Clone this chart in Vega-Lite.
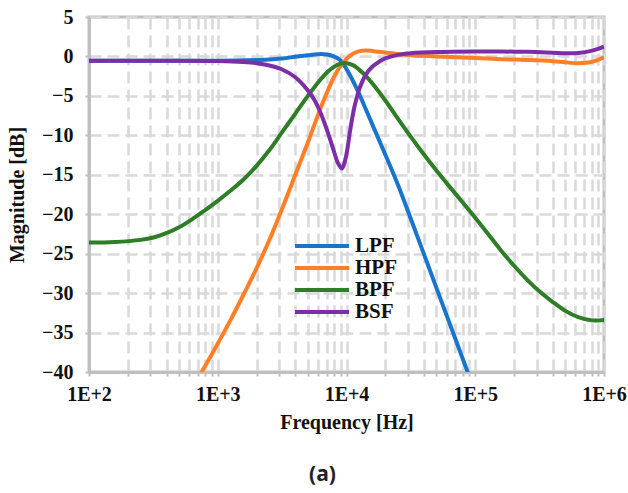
{
  "$schema": "https://vega.github.io/schema/vega-lite/v6.json",
  "width": 515,
  "height": 355,
  "autosize": "none",
  "padding": {"left": 89, "top": 17, "right": 24, "bottom": 121},
  "background": "white",
  "title": {"text": "(a)", "orient": "bottom", "anchor": "middle", "dx": -24, "offset": 32, "font": "Open Sans", "fontSize": 21, "fontWeight": "bold", "color": "#222222"},
  "config": {
    "font": "Liberation Serif",
    "view": {"stroke": "#bfbfbf", "strokeWidth": 3},
    "axis": {
      "labelFont": "Liberation Serif", "titleFont": "Liberation Serif",
      "domainColor": "#bfbfbf", "domainWidth": 3, "tickColor": "#bfbfbf", "tickWidth": 2, "tickSize": 4,
      "gridColor": "#d9d9d9", "gridWidth": 2.5, "gridDash": [12, 6]
    }
  },
  "data": {"values": [
    {"f": 100, "dB": -0.55, "filter": "LPF"},
    {"f": 316.2, "dB": -0.55, "filter": "LPF"},
    {"f": 1000, "dB": -0.53, "filter": "LPF"},
    {"f": 1584.9, "dB": -0.48, "filter": "LPF"},
    {"f": 2511.9, "dB": -0.38, "filter": "LPF"},
    {"f": 3162.3, "dB": -0.25, "filter": "LPF"},
    {"f": 3981.1, "dB": -0.05, "filter": "LPF"},
    {"f": 5011.9, "dB": 0.15, "filter": "LPF"},
    {"f": 5623.4, "dB": 0.25, "filter": "LPF"},
    {"f": 6309.6, "dB": 0.3, "filter": "LPF"},
    {"f": 7079.5, "dB": 0.25, "filter": "LPF"},
    {"f": 7943.3, "dB": 0.0, "filter": "LPF"},
    {"f": 8912.5, "dB": -0.45, "filter": "LPF"},
    {"f": 10000, "dB": -1.6, "filter": "LPF"},
    {"f": 11220, "dB": -3.1, "filter": "LPF"},
    {"f": 12589, "dB": -4.8, "filter": "LPF"},
    {"f": 14125, "dB": -6.7, "filter": "LPF"},
    {"f": 15849, "dB": -8.6, "filter": "LPF"},
    {"f": 17783, "dB": -10.5, "filter": "LPF"},
    {"f": 19953, "dB": -12.4, "filter": "LPF"},
    {"f": 25119, "dB": -16.3, "filter": "LPF"},
    {"f": 31623, "dB": -20.6, "filter": "LPF"},
    {"f": 39811, "dB": -25.0, "filter": "LPF"},
    {"f": 50119, "dB": -29.4, "filter": "LPF"},
    {"f": 63096, "dB": -33.8, "filter": "LPF"},
    {"f": 79433, "dB": -38.2, "filter": "LPF"},
    {"f": 100000, "dB": -42.6, "filter": "LPF"},

    {"f": 707.9, "dB": -40.7, "filter": "HPF"},
    {"f": 749.9, "dB": -40.0, "filter": "HPF"},
    {"f": 794.3, "dB": -39.3, "filter": "HPF"},
    {"f": 1000, "dB": -36.4, "filter": "HPF"},
    {"f": 1258.9, "dB": -33.4, "filter": "HPF"},
    {"f": 1584.9, "dB": -30.2, "filter": "HPF"},
    {"f": 1995.3, "dB": -26.9, "filter": "HPF"},
    {"f": 2511.9, "dB": -23.3, "filter": "HPF"},
    {"f": 3162.3, "dB": -19.3, "filter": "HPF"},
    {"f": 3981.1, "dB": -15.1, "filter": "HPF"},
    {"f": 5011.9, "dB": -10.9, "filter": "HPF"},
    {"f": 6309.6, "dB": -6.5, "filter": "HPF"},
    {"f": 7079.5, "dB": -4.5, "filter": "HPF"},
    {"f": 7943.3, "dB": -2.7, "filter": "HPF"},
    {"f": 8912.5, "dB": -1.3, "filter": "HPF"},
    {"f": 10000, "dB": -0.3, "filter": "HPF"},
    {"f": 11220, "dB": 0.35, "filter": "HPF"},
    {"f": 12589, "dB": 0.68, "filter": "HPF"},
    {"f": 14125, "dB": 0.75, "filter": "HPF"},
    {"f": 15849, "dB": 0.7, "filter": "HPF"},
    {"f": 19953, "dB": 0.5, "filter": "HPF"},
    {"f": 25119, "dB": 0.3, "filter": "HPF"},
    {"f": 31623, "dB": 0.15, "filter": "HPF"},
    {"f": 50119, "dB": 0.0, "filter": "HPF"},
    {"f": 100000, "dB": -0.2, "filter": "HPF"},
    {"f": 158489, "dB": -0.35, "filter": "HPF"},
    {"f": 251189, "dB": -0.45, "filter": "HPF"},
    {"f": 398107, "dB": -0.6, "filter": "HPF"},
    {"f": 501187, "dB": -0.75, "filter": "HPF"},
    {"f": 630957, "dB": -0.85, "filter": "HPF"},
    {"f": 794328, "dB": -0.7, "filter": "HPF"},
    {"f": 1000000, "dB": -0.1, "filter": "HPF"},

    {"f": 100, "dB": -23.6, "filter": "BPF"},
    {"f": 158.5, "dB": -23.52, "filter": "BPF"},
    {"f": 251.2, "dB": -23.25, "filter": "BPF"},
    {"f": 316.2, "dB": -22.95, "filter": "BPF"},
    {"f": 398.1, "dB": -22.4, "filter": "BPF"},
    {"f": 501.2, "dB": -21.65, "filter": "BPF"},
    {"f": 631, "dB": -20.65, "filter": "BPF"},
    {"f": 794.3, "dB": -19.5, "filter": "BPF"},
    {"f": 1000, "dB": -18.3, "filter": "BPF"},
    {"f": 1258.9, "dB": -17.0, "filter": "BPF"},
    {"f": 1584.9, "dB": -15.6, "filter": "BPF"},
    {"f": 1995.3, "dB": -13.9, "filter": "BPF"},
    {"f": 2511.9, "dB": -11.9, "filter": "BPF"},
    {"f": 3162.3, "dB": -9.6, "filter": "BPF"},
    {"f": 3981.1, "dB": -7.3, "filter": "BPF"},
    {"f": 5011.9, "dB": -5.0, "filter": "BPF"},
    {"f": 6309.6, "dB": -2.9, "filter": "BPF"},
    {"f": 7079.5, "dB": -2.0, "filter": "BPF"},
    {"f": 7943.3, "dB": -1.35, "filter": "BPF"},
    {"f": 8912.5, "dB": -0.95, "filter": "BPF"},
    {"f": 10000, "dB": -0.85, "filter": "BPF"},
    {"f": 11220, "dB": -1.1, "filter": "BPF"},
    {"f": 12589, "dB": -1.7, "filter": "BPF"},
    {"f": 14125, "dB": -2.45, "filter": "BPF"},
    {"f": 15849, "dB": -3.4, "filter": "BPF"},
    {"f": 19953, "dB": -5.55, "filter": "BPF"},
    {"f": 25119, "dB": -7.9, "filter": "BPF"},
    {"f": 31623, "dB": -10.2, "filter": "BPF"},
    {"f": 39811, "dB": -12.4, "filter": "BPF"},
    {"f": 50119, "dB": -14.5, "filter": "BPF"},
    {"f": 63096, "dB": -16.5, "filter": "BPF"},
    {"f": 79433, "dB": -18.45, "filter": "BPF"},
    {"f": 100000, "dB": -20.45, "filter": "BPF"},
    {"f": 125893, "dB": -22.5, "filter": "BPF"},
    {"f": 158489, "dB": -24.6, "filter": "BPF"},
    {"f": 199526, "dB": -26.5, "filter": "BPF"},
    {"f": 251189, "dB": -28.25, "filter": "BPF"},
    {"f": 316228, "dB": -29.8, "filter": "BPF"},
    {"f": 398107, "dB": -31.1, "filter": "BPF"},
    {"f": 501187, "dB": -32.25, "filter": "BPF"},
    {"f": 630957, "dB": -33.05, "filter": "BPF"},
    {"f": 794328, "dB": -33.45, "filter": "BPF"},
    {"f": 1000000, "dB": -33.4, "filter": "BPF"},

    {"f": 100, "dB": -0.55, "filter": "BSF"},
    {"f": 316.2, "dB": -0.55, "filter": "BSF"},
    {"f": 1000, "dB": -0.58, "filter": "BSF"},
    {"f": 1584.9, "dB": -0.7, "filter": "BSF"},
    {"f": 1995.3, "dB": -0.85, "filter": "BSF"},
    {"f": 2511.9, "dB": -1.15, "filter": "BSF"},
    {"f": 3162.3, "dB": -1.65, "filter": "BSF"},
    {"f": 3981.1, "dB": -2.6, "filter": "BSF"},
    {"f": 5011.9, "dB": -4.3, "filter": "BSF"},
    {"f": 5623.4, "dB": -5.5, "filter": "BSF"},
    {"f": 6309.6, "dB": -7.2, "filter": "BSF"},
    {"f": 7079.5, "dB": -9.4, "filter": "BSF"},
    {"f": 7943.3, "dB": -11.9, "filter": "BSF"},
    {"f": 8511.4, "dB": -13.4, "filter": "BSF"},
    {"f": 9183.4, "dB": -14.2, "filter": "BSF"},
    {"f": 9549.9, "dB": -13.7, "filter": "BSF"},
    {"f": 10000, "dB": -12.4, "filter": "BSF"},
    {"f": 10715, "dB": -9.2, "filter": "BSF"},
    {"f": 11482, "dB": -6.5, "filter": "BSF"},
    {"f": 12023, "dB": -5.2, "filter": "BSF"},
    {"f": 12589, "dB": -4.1, "filter": "BSF"},
    {"f": 14125, "dB": -2.3, "filter": "BSF"},
    {"f": 15849, "dB": -1.3, "filter": "BSF"},
    {"f": 17783, "dB": -0.7, "filter": "BSF"},
    {"f": 19953, "dB": -0.25, "filter": "BSF"},
    {"f": 25119, "dB": 0.2, "filter": "BSF"},
    {"f": 31623, "dB": 0.4, "filter": "BSF"},
    {"f": 50119, "dB": 0.55, "filter": "BSF"},
    {"f": 100000, "dB": 0.62, "filter": "BSF"},
    {"f": 158489, "dB": 0.62, "filter": "BSF"},
    {"f": 251189, "dB": 0.58, "filter": "BSF"},
    {"f": 398107, "dB": 0.48, "filter": "BSF"},
    {"f": 501187, "dB": 0.42, "filter": "BSF"},
    {"f": 630957, "dB": 0.45, "filter": "BSF"},
    {"f": 794328, "dB": 0.7, "filter": "BSF"},
    {"f": 1000000, "dB": 1.25, "filter": "BSF"}
  ]},
  "mark": {"type": "line", "strokeWidth": 4, "interpolate": "catmull-rom", "clip": true},
  "encoding": {
    "x": {
      "field": "f", "type": "quantitative",
      "scale": {"type": "log", "domain": [100, 1000000]},
      "axis": {
        "title": "Frequency [Hz]",
        "values": [100,200,300,400,500,600,700,800,900,1000,2000,3000,4000,5000,6000,7000,8000,9000,10000,20000,30000,40000,50000,60000,70000,80000,90000,100000,200000,300000,400000,500000,600000,700000,800000,900000,1000000],
        "labelExpr": "datum.value==100?'1E+2':datum.value==1000?'1E+3':datum.value==10000?'1E+4':datum.value==100000?'1E+5':datum.value==1000000?'1E+6':''",
        "labelOverlap": false, "labelFlush": false, "labelBound": false,
        "labelFont": "Liberation Serif", "labelFontWeight": "bold", "labelFontSize": 20, "labelColor": "#111111",
        "titleFont": "Liberation Serif", "titleFontWeight": "bold", "titleFontSize": 20, "titleColor": "#111111",
        "labelPadding": 8, "titlePadding": 8
      }
    },
    "y": {
      "field": "dB", "type": "quantitative",
      "scale": {"domain": [-40, 5], "nice": false, "zero": false},
      "axis": {
        "title": "Magnitude [dB]",
        "values": [-40,-35,-30,-25,-20,-15,-10,-5,0,5],
        "labelFont": "Liberation Serif", "labelFontWeight": "bold", "labelFontSize": 20, "labelColor": "#111111",
        "titleFont": "Liberation Serif", "titleFontWeight": "bold", "titleFontSize": 20, "titleColor": "#111111",
        "labelPadding": 12, "titlePadding": 14
      }
    },
    "color": {
      "field": "filter", "type": "nominal",
      "scale": {"domain": ["LPF", "HPF", "BPF", "BSF"], "range": ["#1874CD", "#FF7F27", "#2E7D27", "#7D2EA6"]},
      "legend": {
        "title": null, "orient": "none", "legendX": 221, "legendY": 217,
        "symbolType": "M-2.7,0H2.7", "symbolSize": 400, "symbolStrokeWidth": 4,
        "labelFont": "Liberation Serif", "labelFontWeight": "bold", "labelFontSize": 21, "labelColor": "#111111",
        "labelOffset": 21, "rowPadding": -1.5, "padding": 0
      }
    }
  }
}
